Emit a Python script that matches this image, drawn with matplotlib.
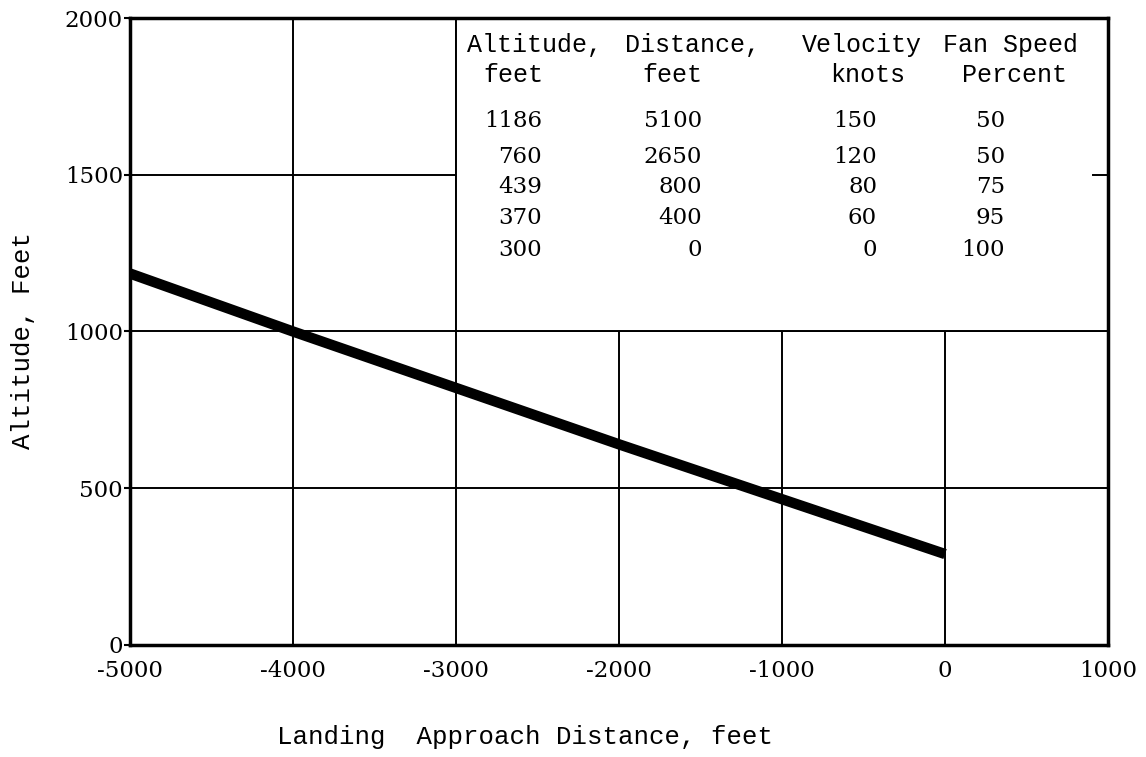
import matplotlib
matplotlib.use('Agg')
import matplotlib.pyplot as plt
from matplotlib.patches import Rectangle

# landing approach profile
distance = [-5000, -4000, -3000, -2000, -1000, 0]
altitude = [1185, 1000, 820, 640, 465, 290]

x_ticks = [-5000, -4000, -3000, -2000, -1000, 0, 1000]
x_tick_labels = ['-5000', '-4000', '-3000', '-2000', '-1000', '0', '1000']
y_ticks = [0, 500, 1000, 1500, 2000]
y_tick_labels = ['0', '500', '1000', '1500', '2000']

# inset table
col_head1 = ['Altitude,', 'Distance,', 'Velocity', 'Fan Speed']
col_head2 = ['feet', 'feet', 'knots', 'Percent']
tab_altitude = ['1186', '760', '439', '370', '300']
tab_distance = ['5100', '2650', '800', '400', '0']
tab_velocity = ['150', '120', '80', '60', '0']
tab_fan = ['50', '50', '75', '95', '100']

mono = 'Liberation Mono'
serif = 'DejaVu Serif'

fig = plt.figure(figsize=(11.46, 7.57), dpi=100)
ax = fig.add_axes([0.1134, 0.148, 0.8535, 0.8282])

ax.plot(distance, altitude, color='black', lw=7.5, solid_capstyle='butt', zorder=3)

ax.set_xlim(-5000, 1000)
ax.set_ylim(0, 2000)
ax.set_xticks(x_ticks)
ax.set_xticklabels(x_tick_labels, family=serif, fontsize=16.5)
ax.set_yticks(y_ticks)
ax.set_yticklabels(y_tick_labels, family=serif, fontsize=16.5)
ax.tick_params(axis='x', length=0, pad=11)
ax.tick_params(axis='y', length=4, width=1.5, pad=1)
ax.set_axisbelow(True)
ax.grid(True, color='black', lw=1.4)
for s in ax.spines.values():
    s.set_linewidth(2.5)

# white table box over upper right part of the grid
ax.add_patch(Rectangle((-3000, 1000), 4000, 1000, facecolor='white',
                       edgecolor='black', lw=1.4, zorder=1))
ax.axhline(1500, xmin=0.985, xmax=1.0, color='black', lw=1.4, zorder=2)

head_x = [-2933, -1963, -877, -12]
head2_x = [-2834, -1859, -706, 104]
num_right = [-2472, -1491, -417, 368]
row_y = [1671, 1557, 1461, 1362, 1260]
for i in range(4):
    ax.text(head_x[i], 1914, col_head1[i], family=mono, fontsize=18,
            ha='left', va='center', zorder=4)
    ax.text(head2_x[i], 1818, col_head2[i], family=mono, fontsize=18,
            ha='left', va='center', zorder=4)
cols = [tab_altitude, tab_distance, tab_velocity, tab_fan]
for c, vals in enumerate(cols):
    for r, v in enumerate(vals):
        ax.text(num_right[c], row_y[r], v, family=serif, fontsize=16.5,
                ha='right', va='center', zorder=4)

fig.text(0.02, 0.55, 'Altitude, Feet', family=mono, fontsize=18.5,
         rotation=90, ha='center', va='center')
fig.text(0.458, 0.027, 'Landing  Approach Distance, feet', family=mono,
         fontsize=18.5, ha='center', va='center')

fig.savefig('out.png', dpi=100)
